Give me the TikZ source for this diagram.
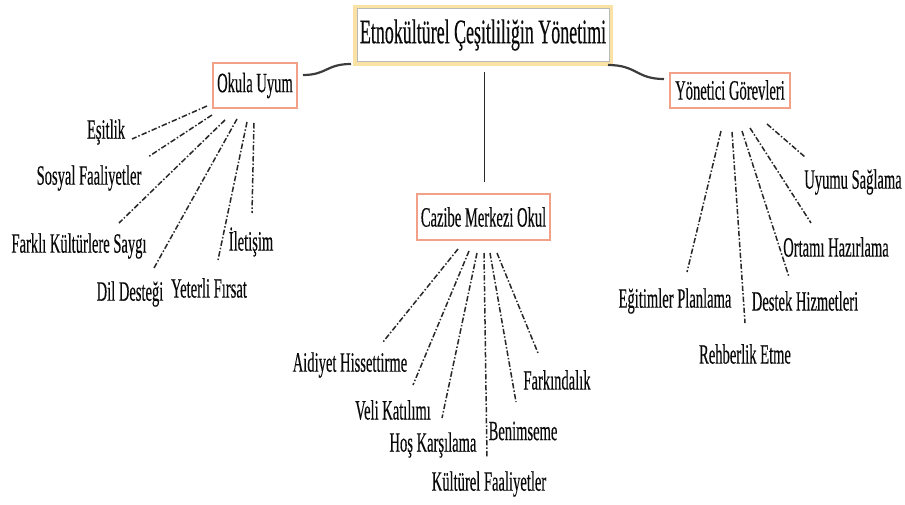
\documentclass[tikz,border=0pt]{standalone}
\usepackage{fontspec}
\setmainfont{Liberation Serif}[FakeStretch=0.52, FakeBold=0.3]
\definecolor{gold}{RGB}{250,226,165}
\definecolor{salmon}{RGB}{242,160,135}
\definecolor{txt}{RGB}{10,10,10}
\definecolor{lin}{RGB}{40,40,40}
\definecolor{dk}{RGB}{60,60,60}
\begin{document}
\begin{tikzpicture}[x=1pt,y=-1pt,
  lbl/.style={font=\fontsize{28}{30}\selectfont, text=txt, inner sep=0pt},
  sbox/.style={draw=salmon, line width=2pt, fill=white, font=\fontsize{28}{30}\selectfont, text=txt, inner sep=0pt},
  conn/.style={draw=lin, line width=1.5pt, dash pattern=on 5.5pt off 2pt on 1.5pt off 2pt},
  curv/.style={draw=dk, line width=2.2pt}]
\useasboundingbox (0,0) rectangle (905,504);

% title
\node[draw=gold, line width=4pt, minimum width=256pt, minimum height=57pt, inner sep=0pt] (titleframe) at (483,35) {};
\node[draw=gray!55, line width=0.8pt, minimum width=252pt, minimum height=53pt, inner sep=0pt,
      font=\fontsize{34.5}{36}\selectfont, text=txt] (title) at (483,35) {Etnokültürel Çeşitliliğin Yönetimi};

% category boxes
\node[sbox, minimum width=84pt, minimum height=45pt] (okula) at (255,85.5) {Okula Uyum};
\node[sbox, minimum width=120pt, minimum height=35pt] (yonetici) at (730,90) {Yönetici Görevleri};
\node[sbox, minimum width=133pt, minimum height=46pt] (cazibe) at (483.5,217) {Cazibe Merkezi Okul};

% main connectors
\coordinate (cl1) at (303,75);
\coordinate (cl2) at (351,64);
\coordinate (cr1) at (608,65);
\coordinate (cr2) at (664,79);
\coordinate (cv1) at (484,72);
\coordinate (cv2) at (484,182);
\draw[curv] (cl1) .. controls (327,75) and (326,64) .. (cl2);
\draw[curv] (cr1) .. controls (637,65) and (636,79) .. (cr2);
\draw[line width=1pt, draw=lin] (cv1) -- (cv2);

% left labels
\node[lbl] (esitlik) at (106,132) {Eşitlik};
\node[lbl] (sosyal) at (89,178) {Sosyal Faaliyetler};
\node[lbl] (farkli) at (79,246) {Farklı Kültürlere Saygı};
\node[lbl] (iletisim) at (251,242) {İletişim};
\node[lbl] (yeterli) at (209,288) {Yeterli Fırsat};
\node[lbl] (dil) at (130,294) {Dil Desteği};

\coordinate (a1) at (207,106); \coordinate (b1) at (132,139);
\coordinate (a2) at (212,115); \coordinate (b2) at (148,157);
\coordinate (a3) at (225,120); \coordinate (b3) at (119,223);
\coordinate (a4) at (237,119); \coordinate (b4) at (154,268);
\coordinate (a5) at (247,122); \coordinate (b5) at (218,260);
\coordinate (a6) at (254,123); \coordinate (b6) at (252,213);
\foreach \i in {1,...,6} \draw[conn] (a\i) -- (b\i);

% centre labels
\node[lbl] (aidiyet) at (350,365) {Aidiyet Hissettirme};
\node[lbl] (veli) at (393,410) {Veli Katılımı};
\node[lbl] (hos) at (433,445) {Hoş Karşılama};
\node[lbl] (benim) at (523,431) {Benimseme};
\node[lbl] (farkin) at (557,380) {Farkındalık};
\node[lbl] (kultur) at (489,484) {Kültürel Faaliyetler};

\coordinate (c1) at (458,249); \coordinate (d1) at (383,342);
\coordinate (c2) at (469,251); \coordinate (d2) at (413,385);
\coordinate (c3) at (477,253); \coordinate (d3) at (442,418);
\coordinate (c4) at (484,253); \coordinate (d4) at (487,458);
\coordinate (c5) at (490,253); \coordinate (d5) at (516,402);
\coordinate (c6) at (497,253); \coordinate (d6) at (538,353);
\foreach \i in {1,...,6} \draw[conn] (c\i) -- (d\i);

% right labels
\node[lbl] (uyumu) at (853,182) {Uyumu Sağlama};
\node[lbl] (ortami) at (836,247) {Ortamı Hazırlama};
\node[lbl] (egitim) at (675,301) {Eğitimler Planlama};
\node[lbl] (destek) at (805,301) {Destek Hizmetleri};
\node[lbl] (rehber) at (745,354) {Rehberlik Etme};

\coordinate (e1) at (721,131); \coordinate (f1) at (687,272);
\coordinate (e2) at (732,132); \coordinate (f2) at (745,323);
\coordinate (e3) at (742,131); \coordinate (f3) at (789,277);
\coordinate (e4) at (750,128); \coordinate (f4) at (811,223);
\coordinate (e5) at (767,124); \coordinate (f5) at (805,157);
\foreach \i in {1,...,5} \draw[conn] (e\i) -- (f\i);
\end{tikzpicture}
\end{document}
